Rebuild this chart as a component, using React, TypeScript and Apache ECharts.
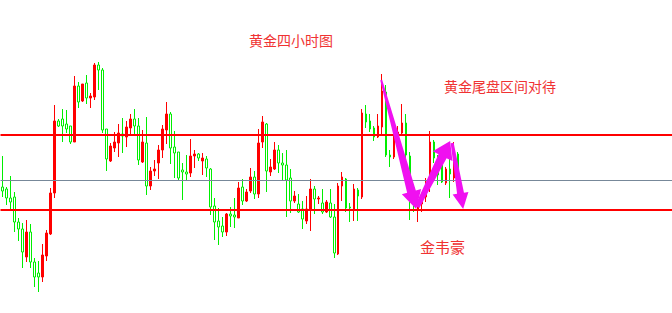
import { useEffect, useRef } from 'react';
import * as echarts from 'echarts';

// 4-hour bars; the chart has room for 168 bars, the first 115 are filled
const categories: string[] = Array.from({ length: 168 }, (_, i) => `H4-${i + 1}`);

const opens = [
  213, 211, 202, 203, 178, 171, 143, 168, 138, 127, 123, 144, 166, 207, 279, 281, 276, 274, 258, 314,
  299, 317, 302, 303, 335, 330, 271, 239, 252, 257, 266, 263, 272, 281, 274, 238, 257, 214, 229, 237,
  250, 270, 286, 253, 248, 230, 228, 227, 244, 246, 239, 241, 231, 194, 179, 174, 168, 186, 185, 182,
  213, 199, 209, 223, 206, 258, 276, 228, 231, 250, 237, 235, 222, 199, 196, 191, 179, 191, 211, 201,
  197, 188, 197, 183, 146, 214, 221, 193, 191, 210, 203, 286, 279, 272, 263, 273, 308, 245, 243, 262,
  267, 277, 244, 212, 191, 196, 203, 217, 258, 240, 238, 217, 231, 222, 246,
];
const closes = [
  209, 202, 198, 178, 171, 148, 168, 138, 123, 123, 145, 167, 207, 279, 274, 274, 271, 258, 314, 298,
  316, 302, 304, 335, 330, 270, 241, 254, 258, 267, 264, 273, 281, 274, 240, 258, 214, 229, 231, 250,
  271, 286, 252, 247, 222, 228, 226, 244, 246, 242, 242, 232, 193, 178, 173, 168, 186, 184, 183, 212,
  199, 208, 223, 206, 257, 278, 229, 233, 250, 237, 235, 220, 199, 204, 188, 181, 191, 211, 201, 202,
  188, 198, 183, 147, 214, 223, 192, 192, 211, 204, 287, 278, 271, 263, 274, 309, 245, 243, 262, 268,
  277, 245, 218, 200, 193, 200, 216, 258, 242, 225, 218, 231, 226, 245, 225,
];
const lows = [
  203, 195, 190, 168, 159, 132, 138, 132, 113, 108, 118, 139, 165, 202, 273, 258, 267, 256, 258, 292,
  298, 296, 292, 300, 310, 267, 229, 238, 248, 243, 247, 253, 265, 265, 235, 237, 205, 210, 224, 221,
  242, 256, 236, 222, 220, 200, 220, 223, 232, 239, 225, 223, 185, 160, 155, 163, 164, 173, 172, 182,
  195, 198, 207, 201, 202, 252, 208, 224, 230, 227, 220, 183, 187, 197, 187, 171, 176, 169, 186, 196,
  186, 187, 182, 142, 145, 199, 188, 178, 179, 179, 201, 272, 268, 259, 262, 265, 243, 233, 241, 260,
  265, 238, 180, 188, 178, 188, 198, 208, 237, 215, 217, 215, 202, 218, 223,
];
const highs = [
  244, 213, 224, 208, 182, 177, 180, 176, 142, 139, 156, 170, 212, 295, 281, 291, 290, 274, 324, 318,
  316, 325, 307, 337, 338, 332, 271, 257, 268, 276, 282, 279, 286, 291, 282, 270, 283, 233, 240, 255,
  275, 298, 288, 269, 248, 237, 245, 261, 250, 247, 247, 244, 232, 202, 192, 183, 187, 193, 202, 218,
  221, 211, 232, 229, 271, 284, 277, 241, 258, 255, 247, 250, 231, 209, 206, 199, 204, 221, 214, 204,
  211, 200, 211, 196, 217, 228, 222, 197, 216, 212, 291, 295, 286, 274, 286, 326, 315, 250, 265, 274,
  296, 286, 248, 215, 198, 205, 222, 269, 260, 245, 245, 233, 242, 258, 248,
];

// horizontal price levels
const levelUpper = 265;
const levelLower = 190;
const levelMid = 220;

// annotation arrows, anchored at [bar index, price]
const arrowAnchors = [
  { from: [94.75, 320], to: [103.5, 191] },
  { from: [103.75, 193], to: [112, 259] },
  { from: [112.5, 257], to: [115.25, 191] },
];
const arrowShapes = [
  { tail: 2, shaft: 9, headLen: 18, headHalf: 10 },
  { tail: 5, shaft: 9, headLen: 17, headHalf: 11 },
  { tail: 3, shaft: 7, headLen: 16, headHalf: 8 },
];

const titleText = '黄金四小时图';
const noteText = '黄金尾盘区间对待';
const authorText = '金韦豪';

function arrowPoints(x1: number, y1: number, x2: number, y2: number, s: { tail: number; shaft: number; headLen: number; headHalf: number }) {
  const dx = x2 - x1;
  const dy = y2 - y1;
  const L = Math.hypot(dx, dy) || 1;
  const ux = dx / L;
  const uy = dy / L;
  const nx = -uy;
  const ny = ux;
  const bx = x2 - ux * s.headLen;
  const by = y2 - uy * s.headLen;
  return [
    [x1 + (nx * s.tail) / 2, y1 + (ny * s.tail) / 2],
    [bx + (nx * s.shaft) / 2, by + (ny * s.shaft) / 2],
    [bx + nx * s.headHalf, by + ny * s.headHalf],
    [x2, y2],
    [bx - nx * s.headHalf, by - ny * s.headHalf],
    [bx - (nx * s.shaft) / 2, by - (ny * s.shaft) / 2],
    [x1 - (nx * s.tail) / 2, y1 - (ny * s.tail) / 2],
  ];
}

export default function App() {
  const ref = useRef<HTMLDivElement>(null);
  useEffect(() => {
    document.body.style.margin = '0';
    if (!ref.current) return;
    const chart = echarts.init(ref.current, undefined, { renderer: 'svg' });
    const data = opens.map((o, i) => [o, closes[i], lows[i], highs[i]]);
    chart.setOption({
      animation: false,
      backgroundColor: '#ffffff',
      grid: { left: 0.5, right: -0.5, top: 0, bottom: 0 },
      xAxis: {
        type: 'category',
        data: categories,
        boundaryGap: true,
        show: false,
      },
      yAxis: {
        type: 'value',
        min: 87,
        max: 400,
        show: false,
        splitLine: { show: false },
      },
      series: [
        {
          type: 'candlestick',
          data,
          barWidth: 2,
          itemStyle: {
            color: '#ff0000',
            color0: '#ffffff',
            borderColor: '#ff0000',
            borderColor0: '#00ee00',
            borderWidth: 1,
          },
          markLine: {
            silent: true,
            symbol: 'none',
            label: { show: false },
            animation: false,
            data: [
              { yAxis: levelUpper, lineStyle: { color: '#ff0000', width: 2, type: 'solid' } },
              { yAxis: levelLower, lineStyle: { color: '#ff0000', width: 2, type: 'solid' } },
              { yAxis: levelMid, lineStyle: { color: '#778899', width: 1, type: 'solid' } },
            ],
          },
        },
      ],
    });

    const toPx = (idx: number, val: number) => {
      const i0 = Math.floor(idx);
      const f = idx - i0;
      const p0 = chart.convertToPixel({ seriesIndex: 0 }, [i0, val]) as number[];
      const p1 = chart.convertToPixel({ seriesIndex: 0 }, [i0 + 1, val]) as number[];
      return [p0[0] + f * (p1[0] - p0[0]), p0[1]];
    };

    const arrowGraphics = arrowAnchors.map((a, k) => {
      const p = toPx(a.from[0], a.from[1]);
      const q = toPx(a.to[0], a.to[1]);
      return {
        type: 'polygon',
        shape: { points: arrowPoints(p[0], p[1], q[0], q[1], arrowShapes[k]) },
        style: { fill: '#f010f0' },
        z: 100,
      };
    });

    const textStyle = (text: string, size: number) => ({
      text,
      fill: '#f03232',
      fontSize: size,
      fontFamily: '"Noto Sans CJK SC", sans-serif',
      verticalAlign: 'middle',
    });

    chart.setOption({
      graphic: [
        ...arrowGraphics,
        { type: 'text', x: 249, y: 40, style: textStyle(titleText, 14), z: 100 },
        { type: 'text', x: 444, y: 86, style: textStyle(noteText, 14), z: 100 },
        { type: 'text', x: 420, y: 246, style: textStyle(authorText, 15), z: 100 },
      ],
    });

    return () => chart.dispose();
  }, []);
  return <div ref={ref} style={{ width: 672, height: 313 }} />;
}
